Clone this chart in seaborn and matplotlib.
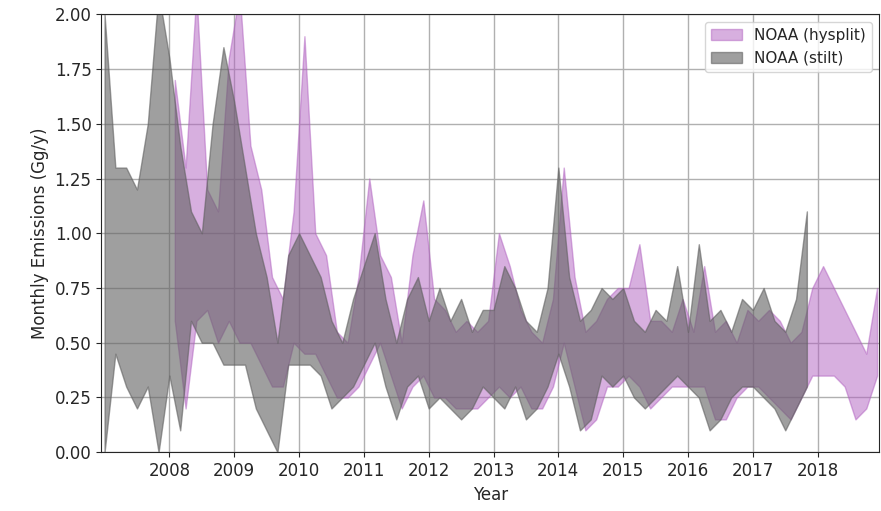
import numpy as np
import pandas as pd
import matplotlib
matplotlib.use("Agg")
import matplotlib.pyplot as plt
import seaborn as sns

# bimonthly estimates
stilt_upper = [2.0, 1.3, 1.3, 1.2, 1.5, 2.1,
               1.8, 1.4, 1.1, 1.0, 1.5, 1.85,
               1.6, 1.3, 1.0, 0.8, 0.5, 0.9,
               1.0, 0.9, 0.8, 0.6, 0.5, 0.7,
               0.85, 1.0, 0.7, 0.5, 0.7, 0.8,
               0.6, 0.75, 0.6, 0.7, 0.55, 0.65,
               0.65, 0.85, 0.75, 0.6, 0.55, 0.75,
               1.3, 0.8, 0.6, 0.65, 0.75, 0.7,
               0.75, 0.6, 0.55, 0.65, 0.6, 0.85,
               0.55, 0.95, 0.6, 0.65, 0.55, 0.7,
               0.65, 0.75, 0.6, 0.55, 0.7, 1.1]
stilt_lower = [0.0, 0.45, 0.3, 0.2, 0.3, 0.0,
               0.35, 0.1, 0.6, 0.5, 0.5, 0.4,
               0.4, 0.4, 0.2, 0.1, 0.0, 0.4,
               0.4, 0.4, 0.35, 0.2, 0.25, 0.3,
               0.4, 0.5, 0.3, 0.15, 0.3, 0.35,
               0.2, 0.25, 0.2, 0.15, 0.2, 0.3,
               0.25, 0.2, 0.3, 0.15, 0.2, 0.3,
               0.45, 0.3, 0.1, 0.15, 0.35, 0.3,
               0.35, 0.25, 0.2, 0.25, 0.3, 0.35,
               0.3, 0.25, 0.1, 0.15, 0.25, 0.3,
               0.3, 0.25, 0.2, 0.1, 0.2, 0.3]
hysplit_upper = [1.7, 1.3, 2.1, 1.2, 1.1, 1.8,
                 2.1, 1.4, 1.2, 0.8, 0.7, 1.1,
                 1.9, 1.0, 0.9, 0.55, 0.5, 0.8,
                 1.25, 0.9, 0.8, 0.5, 0.9, 1.15,
                 0.7, 0.65, 0.55, 0.6, 0.55, 0.6,
                 1.0, 0.85, 0.65, 0.55, 0.5, 0.7,
                 1.3, 0.8, 0.55, 0.6, 0.7, 0.75,
                 0.75, 0.95, 0.6, 0.6, 0.55, 0.7,
                 0.55, 0.85, 0.55, 0.6, 0.5, 0.65,
                 0.6, 0.65, 0.6, 0.5, 0.55, 0.75,
                 0.85, 0.75, 0.65, 0.55, 0.45, 0.75]
hysplit_lower = [0.6, 0.2, 0.6, 0.65, 0.5, 0.6,
                 0.5, 0.5, 0.4, 0.3, 0.3, 0.5,
                 0.45, 0.45, 0.35, 0.25, 0.25, 0.3,
                 0.4, 0.5, 0.35, 0.2, 0.3, 0.35,
                 0.25, 0.25, 0.2, 0.2, 0.2, 0.25,
                 0.3, 0.25, 0.3, 0.2, 0.2, 0.3,
                 0.5, 0.3, 0.1, 0.15, 0.3, 0.3,
                 0.35, 0.3, 0.2, 0.25, 0.3, 0.3,
                 0.3, 0.3, 0.15, 0.15, 0.25, 0.3,
                 0.3, 0.25, 0.2, 0.15, 0.25, 0.35,
                 0.35, 0.35, 0.3, 0.15, 0.2, 0.35]

stilt_t = 2007 + np.arange(len(stilt_upper)) / 6
hysplit_t = 2008 + np.arange(len(hysplit_upper)) / 6 + 1 / 12

sns.set_style("ticks")
plt.rcParams['font.family'] = ['DejaVu Sans']
fig, ax = plt.subplots(figsize=(8.81, 5.11), dpi=100)

ax.fill_between(hysplit_t, hysplit_lower, hysplit_upper, color="#b060c0", alpha=0.5,
                label="NOAA (hysplit)")
ax.fill_between(stilt_t, stilt_lower, stilt_upper, color="#606060", alpha=0.6,
                label="NOAA (stilt)")

ax.set_xlim(2006.95, 2018.95)
ax.set_ylim(0, 2.0)
ax.set_xticks(range(2008, 2019))
ax.set_yticks(np.arange(0, 2.01, 0.25))
ax.yaxis.set_major_formatter(matplotlib.ticker.FormatStrFormatter('%.2f'))
ax.grid(True, color="#b0b0b0", linewidth=1)
ax.set_xlabel("Year", fontsize=12)
ax.set_ylabel("Monthly Emissions (Gg/y)", fontsize=12)
ax.tick_params(labelsize=12)
ax.legend(loc="upper right", fontsize=11)
fig.subplots_adjust(left=0.115, right=0.998, top=0.972, bottom=0.115)
plt.savefig("out.png")
